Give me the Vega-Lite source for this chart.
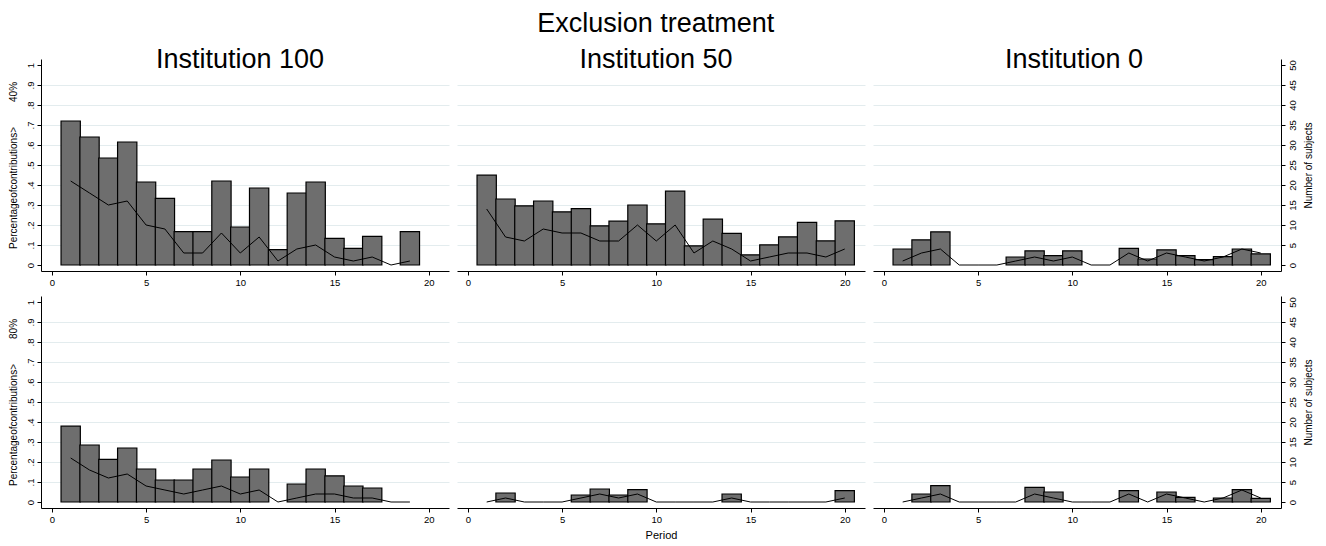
{
  "$schema": "https://vega.github.io/schema/vega-lite/v6.json",
  "padding": {"left": 8, "top": 10, "right": 5, "bottom": 3},
  "title": {"text": "Exclusion treatment", "fontSize": 27, "offset": 8, "anchor": "middle", "dx": -5},
  "datasets": {
    "d": [
      {"inst": "100", "thr": "40", "period": 1, "pct": 0.72, "n": 21},
      {"inst": "100", "thr": "40", "period": 2, "pct": 0.64, "n": 18},
      {"inst": "100", "thr": "40", "period": 3, "pct": 0.535, "n": 15},
      {"inst": "100", "thr": "40", "period": 4, "pct": 0.615, "n": 16},
      {"inst": "100", "thr": "40", "period": 5, "pct": 0.415, "n": 10},
      {"inst": "100", "thr": "40", "period": 6, "pct": 0.333, "n": 9},
      {"inst": "100", "thr": "40", "period": 7, "pct": 0.167, "n": 3},
      {"inst": "100", "thr": "40", "period": 8, "pct": 0.167, "n": 3},
      {"inst": "100", "thr": "40", "period": 9, "pct": 0.42, "n": 8},
      {"inst": "100", "thr": "40", "period": 10, "pct": 0.19, "n": 3},
      {"inst": "100", "thr": "40", "period": 11, "pct": 0.385, "n": 7},
      {"inst": "100", "thr": "40", "period": 12, "pct": 0.077, "n": 1},
      {"inst": "100", "thr": "40", "period": 13, "pct": 0.36, "n": 4},
      {"inst": "100", "thr": "40", "period": 14, "pct": 0.415, "n": 5},
      {"inst": "100", "thr": "40", "period": 15, "pct": 0.133, "n": 2},
      {"inst": "100", "thr": "40", "period": 16, "pct": 0.083, "n": 1},
      {"inst": "100", "thr": "40", "period": 17, "pct": 0.143, "n": 2},
      {"inst": "100", "thr": "40", "period": 18, "pct": null, "n": 0},
      {"inst": "100", "thr": "40", "period": 19, "pct": 0.167, "n": 1},

      {"inst": "50", "thr": "40", "period": 1, "pct": 0.449, "n": 14},
      {"inst": "50", "thr": "40", "period": 2, "pct": 0.33, "n": 7},
      {"inst": "50", "thr": "40", "period": 3, "pct": 0.296, "n": 6},
      {"inst": "50", "thr": "40", "period": 4, "pct": 0.32, "n": 9},
      {"inst": "50", "thr": "40", "period": 5, "pct": 0.266, "n": 8},
      {"inst": "50", "thr": "40", "period": 6, "pct": 0.282, "n": 8},
      {"inst": "50", "thr": "40", "period": 7, "pct": 0.196, "n": 6},
      {"inst": "50", "thr": "40", "period": 8, "pct": 0.219, "n": 6},
      {"inst": "50", "thr": "40", "period": 9, "pct": 0.3, "n": 10},
      {"inst": "50", "thr": "40", "period": 10, "pct": 0.206, "n": 6},
      {"inst": "50", "thr": "40", "period": 11, "pct": 0.369, "n": 10},
      {"inst": "50", "thr": "40", "period": 12, "pct": 0.096, "n": 3},
      {"inst": "50", "thr": "40", "period": 13, "pct": 0.229, "n": 6},
      {"inst": "50", "thr": "40", "period": 14, "pct": 0.158, "n": 4},
      {"inst": "50", "thr": "40", "period": 15, "pct": 0.051, "n": 1},
      {"inst": "50", "thr": "40", "period": 16, "pct": 0.101, "n": 2},
      {"inst": "50", "thr": "40", "period": 17, "pct": 0.141, "n": 3},
      {"inst": "50", "thr": "40", "period": 18, "pct": 0.213, "n": 3},
      {"inst": "50", "thr": "40", "period": 19, "pct": 0.121, "n": 2},
      {"inst": "50", "thr": "40", "period": 20, "pct": 0.221, "n": 4},

      {"inst": "0", "thr": "40", "period": 1, "pct": 0.08, "n": 1},
      {"inst": "0", "thr": "40", "period": 2, "pct": 0.126, "n": 3},
      {"inst": "0", "thr": "40", "period": 3, "pct": 0.166, "n": 4},
      {"inst": "0", "thr": "40", "period": 4, "pct": null, "n": 0},
      {"inst": "0", "thr": "40", "period": 5, "pct": null, "n": 0},
      {"inst": "0", "thr": "40", "period": 6, "pct": null, "n": 0},
      {"inst": "0", "thr": "40", "period": 7, "pct": 0.04, "n": 1},
      {"inst": "0", "thr": "40", "period": 8, "pct": 0.071, "n": 2},
      {"inst": "0", "thr": "40", "period": 9, "pct": 0.047, "n": 1},
      {"inst": "0", "thr": "40", "period": 10, "pct": 0.071, "n": 2},
      {"inst": "0", "thr": "40", "period": 11, "pct": null, "n": 0},
      {"inst": "0", "thr": "40", "period": 12, "pct": null, "n": 0},
      {"inst": "0", "thr": "40", "period": 13, "pct": 0.083, "n": 3},
      {"inst": "0", "thr": "40", "period": 14, "pct": 0.03, "n": 1},
      {"inst": "0", "thr": "40", "period": 15, "pct": 0.076, "n": 3},
      {"inst": "0", "thr": "40", "period": 16, "pct": 0.047, "n": 2},
      {"inst": "0", "thr": "40", "period": 17, "pct": 0.027, "n": 1},
      {"inst": "0", "thr": "40", "period": 18, "pct": 0.042, "n": 2},
      {"inst": "0", "thr": "40", "period": 19, "pct": 0.08, "n": 4},
      {"inst": "0", "thr": "40", "period": 20, "pct": 0.056, "n": 3},

      {"inst": "100", "thr": "80", "period": 1, "pct": 0.379, "n": 11},
      {"inst": "100", "thr": "80", "period": 2, "pct": 0.285, "n": 8},
      {"inst": "100", "thr": "80", "period": 3, "pct": 0.213, "n": 6},
      {"inst": "100", "thr": "80", "period": 4, "pct": 0.27, "n": 7},
      {"inst": "100", "thr": "80", "period": 5, "pct": 0.165, "n": 4},
      {"inst": "100", "thr": "80", "period": 6, "pct": 0.11, "n": 3},
      {"inst": "100", "thr": "80", "period": 7, "pct": 0.11, "n": 2},
      {"inst": "100", "thr": "80", "period": 8, "pct": 0.165, "n": 3},
      {"inst": "100", "thr": "80", "period": 9, "pct": 0.21, "n": 4},
      {"inst": "100", "thr": "80", "period": 10, "pct": 0.125, "n": 2},
      {"inst": "100", "thr": "80", "period": 11, "pct": 0.165, "n": 3},
      {"inst": "100", "thr": "80", "period": 12, "pct": null, "n": 0},
      {"inst": "100", "thr": "80", "period": 13, "pct": 0.09, "n": 1},
      {"inst": "100", "thr": "80", "period": 14, "pct": 0.165, "n": 2},
      {"inst": "100", "thr": "80", "period": 15, "pct": 0.131, "n": 2},
      {"inst": "100", "thr": "80", "period": 16, "pct": 0.08, "n": 1},
      {"inst": "100", "thr": "80", "period": 17, "pct": 0.07, "n": 1},
      {"inst": "100", "thr": "80", "period": 18, "pct": null, "n": 0},
      {"inst": "100", "thr": "80", "period": 19, "pct": null, "n": 0},

      {"inst": "50", "thr": "80", "period": 1, "pct": null, "n": 0},
      {"inst": "50", "thr": "80", "period": 2, "pct": 0.045, "n": 1},
      {"inst": "50", "thr": "80", "period": 3, "pct": null, "n": 0},
      {"inst": "50", "thr": "80", "period": 4, "pct": null, "n": 0},
      {"inst": "50", "thr": "80", "period": 5, "pct": null, "n": 0},
      {"inst": "50", "thr": "80", "period": 6, "pct": 0.035, "n": 1},
      {"inst": "50", "thr": "80", "period": 7, "pct": 0.065, "n": 2},
      {"inst": "50", "thr": "80", "period": 8, "pct": 0.035, "n": 1},
      {"inst": "50", "thr": "80", "period": 9, "pct": 0.062, "n": 2},
      {"inst": "50", "thr": "80", "period": 10, "pct": null, "n": 0},
      {"inst": "50", "thr": "80", "period": 11, "pct": null, "n": 0},
      {"inst": "50", "thr": "80", "period": 12, "pct": null, "n": 0},
      {"inst": "50", "thr": "80", "period": 13, "pct": null, "n": 0},
      {"inst": "50", "thr": "80", "period": 14, "pct": 0.04, "n": 1},
      {"inst": "50", "thr": "80", "period": 15, "pct": null, "n": 0},
      {"inst": "50", "thr": "80", "period": 16, "pct": null, "n": 0},
      {"inst": "50", "thr": "80", "period": 17, "pct": null, "n": 0},
      {"inst": "50", "thr": "80", "period": 18, "pct": null, "n": 0},
      {"inst": "50", "thr": "80", "period": 19, "pct": null, "n": 0},
      {"inst": "50", "thr": "80", "period": 20, "pct": 0.057, "n": 1},

      {"inst": "0", "thr": "80", "period": 1, "pct": null, "n": 0},
      {"inst": "0", "thr": "80", "period": 2, "pct": 0.04, "n": 1},
      {"inst": "0", "thr": "80", "period": 3, "pct": 0.082, "n": 2},
      {"inst": "0", "thr": "80", "period": 4, "pct": null, "n": 0},
      {"inst": "0", "thr": "80", "period": 5, "pct": null, "n": 0},
      {"inst": "0", "thr": "80", "period": 6, "pct": null, "n": 0},
      {"inst": "0", "thr": "80", "period": 7, "pct": null, "n": 0},
      {"inst": "0", "thr": "80", "period": 8, "pct": 0.073, "n": 2},
      {"inst": "0", "thr": "80", "period": 9, "pct": 0.05, "n": 1},
      {"inst": "0", "thr": "80", "period": 10, "pct": null, "n": 0},
      {"inst": "0", "thr": "80", "period": 11, "pct": null, "n": 0},
      {"inst": "0", "thr": "80", "period": 12, "pct": null, "n": 0},
      {"inst": "0", "thr": "80", "period": 13, "pct": 0.057, "n": 2},
      {"inst": "0", "thr": "80", "period": 14, "pct": null, "n": 0},
      {"inst": "0", "thr": "80", "period": 15, "pct": 0.05, "n": 2},
      {"inst": "0", "thr": "80", "period": 16, "pct": 0.023, "n": 1},
      {"inst": "0", "thr": "80", "period": 17, "pct": null, "n": 0},
      {"inst": "0", "thr": "80", "period": 18, "pct": 0.02, "n": 1},
      {"inst": "0", "thr": "80", "period": 19, "pct": 0.062, "n": 3},
      {"inst": "0", "thr": "80", "period": 20, "pct": 0.018, "n": 1}
    ]
  },
  "columns": 3,
  "spacing": {"row": 25, "column": 8},
  "bounds": "flush",
  "concat": [
    {
      "width": 408, "height": 212,
      "data": {"name": "d"},
      "transform": [{"filter": "datum.inst == '100' && datum.thr == '40'"}],
      "title": {"text": "Institution 100", "offset": -36, "baseline": "alphabetic", "dx": -5},
      "layer": [
        {
          "mark": {"type": "bar", "width": 19.3, "fill": "#6e6e6e", "stroke": "#000000", "strokeWidth": 1.2},
          "encoding": {
            "x": {"field": "period", "type": "quantitative", "scale": {"domain": [-0.31, 20.81], "nice": false, "zero": false}, "axis": {"values": [0, 5, 10, 15, 20], "title": null, "grid": false}},
            "y": {"field": "pct", "type": "quantitative", "scale": {"domain": [-0.03, 1.03], "nice": false, "zero": false},
              "axis": {"values": [0, 0.1, 0.2, 0.3, 0.4, 0.5, 0.6, 0.7, 0.8, 0.9, 1], "labelExpr": "replace(format(datum.value, '.1~f'), '0.', '.')", "labelAngle": -90, "labelAlign": "center", "labelBaseline": "bottom", "title": "Percentageofcontributions>\u00a0\u00a0\u00a0\u00a0\u00a0\u00a0\u00a0\u00a0\u00a040%", "titlePadding": 7, "grid": true, "gridOpacity": {"condition": {"test": "datum.value < 0.05 || datum.value > 0.95", "value": 0}, "value": 1}}}
          }
        },
        {
          "mark": {"type": "line", "color": "#000000", "strokeWidth": 1},
          "encoding": {
            "x": {"field": "period", "type": "quantitative"},
            "y": {"field": "n", "type": "quantitative", "scale": {"domain": [-1.5, 51.5], "nice": false, "zero": false}, "axis": null}
          }
        }
      ],
      "resolve": {"scale": {"y": "independent"}}
    },
    {
      "width": 408, "height": 212,
      "data": {"name": "d"},
      "transform": [{"filter": "datum.inst == '50' && datum.thr == '40'"}],
      "title": {"text": "Institution 50", "offset": -36, "baseline": "alphabetic", "dx": -5},
      "layer": [
        {
          "mark": {"type": "bar", "width": 19.3, "fill": "#6e6e6e", "stroke": "#000000", "strokeWidth": 1.2},
          "encoding": {
            "x": {"field": "period", "type": "quantitative", "scale": {"domain": [-0.31, 20.81], "nice": false, "zero": false}, "axis": {"values": [0, 5, 10, 15, 20], "title": null, "grid": false}},
            "y": {"field": "pct", "type": "quantitative", "scale": {"domain": [-0.03, 1.03], "nice": false, "zero": false},
              "axis": {"values": [0.1, 0.2, 0.3, 0.4, 0.5, 0.6, 0.7, 0.8, 0.9], "labels": false, "ticks": false, "domain": false, "title": null, "grid": true}}
          }
        },
        {
          "mark": {"type": "line", "color": "#000000", "strokeWidth": 1},
          "encoding": {
            "x": {"field": "period", "type": "quantitative"},
            "y": {"field": "n", "type": "quantitative", "scale": {"domain": [-1.5, 51.5], "nice": false, "zero": false}, "axis": null}
          }
        }
      ],
      "resolve": {"scale": {"y": "independent"}}
    },
    {
      "width": 408, "height": 212,
      "data": {"name": "d"},
      "transform": [{"filter": "datum.inst == '0' && datum.thr == '40'"}],
      "title": {"text": "Institution 0", "offset": -36, "baseline": "alphabetic", "dx": -3},
      "layer": [
        {
          "mark": {"type": "bar", "width": 19.3, "fill": "#6e6e6e", "stroke": "#000000", "strokeWidth": 1.2},
          "encoding": {
            "x": {"field": "period", "type": "quantitative", "scale": {"domain": [-0.31, 20.81], "nice": false, "zero": false}, "axis": {"values": [0, 5, 10, 15, 20], "title": null, "grid": false}},
            "y": {"field": "pct", "type": "quantitative", "scale": {"domain": [-0.03, 1.03], "nice": false, "zero": false},
              "axis": {"values": [0.1, 0.2, 0.3, 0.4, 0.5, 0.6, 0.7, 0.8, 0.9], "labels": false, "ticks": false, "domain": false, "title": null, "grid": true}}
          }
        },
        {
          "mark": {"type": "line", "color": "#000000", "strokeWidth": 1},
          "encoding": {
            "x": {"field": "period", "type": "quantitative"},
            "y": {"field": "n", "type": "quantitative", "scale": {"domain": [-1.5, 51.5], "nice": false, "zero": false},
              "axis": {"orient": "right", "values": [0, 5, 10, 15, 20, 25, 30, 35, 40, 45, 50], "labelAngle": -90, "labelAlign": "center", "labelBaseline": "top", "title": "Number of subjects", "titleAngle": -90, "titleBaseline": "top", "titlePadding": 7, "grid": false}}
          }
        }
      ],
      "resolve": {"scale": {"y": "independent"}}
    },
    {
      "width": 408, "height": 212,
      "data": {"name": "d"},
      "transform": [{"filter": "datum.inst == '100' && datum.thr == '80'"}],
      "layer": [
        {
          "mark": {"type": "bar", "width": 19.3, "fill": "#6e6e6e", "stroke": "#000000", "strokeWidth": 1.2},
          "encoding": {
            "x": {"field": "period", "type": "quantitative", "scale": {"domain": [-0.31, 20.81], "nice": false, "zero": false}, "axis": {"values": [0, 5, 10, 15, 20], "title": null, "grid": false}},
            "y": {"field": "pct", "type": "quantitative", "scale": {"domain": [-0.03, 1.03], "nice": false, "zero": false},
              "axis": {"values": [0, 0.1, 0.2, 0.3, 0.4, 0.5, 0.6, 0.7, 0.8, 0.9, 1], "labelExpr": "replace(format(datum.value, '.1~f'), '0.', '.')", "labelAngle": -90, "labelAlign": "center", "labelBaseline": "bottom", "title": "Percentageofcontributions>\u00a0\u00a0\u00a0\u00a0\u00a0\u00a0\u00a0\u00a0\u00a080%", "titlePadding": 7, "grid": true, "gridOpacity": {"condition": {"test": "datum.value < 0.05 || datum.value > 0.95", "value": 0}, "value": 1}}}
          }
        },
        {
          "mark": {"type": "line", "color": "#000000", "strokeWidth": 1},
          "encoding": {
            "x": {"field": "period", "type": "quantitative"},
            "y": {"field": "n", "type": "quantitative", "scale": {"domain": [-1.5, 51.5], "nice": false, "zero": false}, "axis": null}
          }
        }
      ],
      "resolve": {"scale": {"y": "independent"}}
    },
    {
      "width": 408, "height": 212,
      "data": {"name": "d"},
      "transform": [{"filter": "datum.inst == '50' && datum.thr == '80'"}],
      "layer": [
        {
          "mark": {"type": "bar", "width": 19.3, "fill": "#6e6e6e", "stroke": "#000000", "strokeWidth": 1.2},
          "encoding": {
            "x": {"field": "period", "type": "quantitative", "scale": {"domain": [-0.31, 20.81], "nice": false, "zero": false}, "axis": {"values": [0, 5, 10, 15, 20], "title": "Period", "titlePadding": 6, "grid": false}},
            "y": {"field": "pct", "type": "quantitative", "scale": {"domain": [-0.03, 1.03], "nice": false, "zero": false},
              "axis": {"values": [0.1, 0.2, 0.3, 0.4, 0.5, 0.6, 0.7, 0.8, 0.9], "labels": false, "ticks": false, "domain": false, "title": null, "grid": true}}
          }
        },
        {
          "mark": {"type": "line", "color": "#000000", "strokeWidth": 1},
          "encoding": {
            "x": {"field": "period", "type": "quantitative"},
            "y": {"field": "n", "type": "quantitative", "scale": {"domain": [-1.5, 51.5], "nice": false, "zero": false}, "axis": null}
          }
        }
      ],
      "resolve": {"scale": {"y": "independent"}}
    },
    {
      "width": 408, "height": 212,
      "data": {"name": "d"},
      "transform": [{"filter": "datum.inst == '0' && datum.thr == '80'"}],
      "layer": [
        {
          "mark": {"type": "bar", "width": 19.3, "fill": "#6e6e6e", "stroke": "#000000", "strokeWidth": 1.2},
          "encoding": {
            "x": {"field": "period", "type": "quantitative", "scale": {"domain": [-0.31, 20.81], "nice": false, "zero": false}, "axis": {"values": [0, 5, 10, 15, 20], "title": null, "grid": false}},
            "y": {"field": "pct", "type": "quantitative", "scale": {"domain": [-0.03, 1.03], "nice": false, "zero": false},
              "axis": {"values": [0.1, 0.2, 0.3, 0.4, 0.5, 0.6, 0.7, 0.8, 0.9], "labels": false, "ticks": false, "domain": false, "title": null, "grid": true}}
          }
        },
        {
          "mark": {"type": "line", "color": "#000000", "strokeWidth": 1},
          "encoding": {
            "x": {"field": "period", "type": "quantitative"},
            "y": {"field": "n", "type": "quantitative", "scale": {"domain": [-1.5, 51.5], "nice": false, "zero": false},
              "axis": {"orient": "right", "values": [0, 5, 10, 15, 20, 25, 30, 35, 40, 45, 50], "labelAngle": -90, "labelAlign": "center", "labelBaseline": "top", "title": "Number of subjects", "titleAngle": -90, "titleBaseline": "top", "titlePadding": 7, "grid": false}}
          }
        }
      ],
      "resolve": {"scale": {"y": "independent"}}
    }
  ],
  "config": {
    "font": "Liberation Sans",
    "view": {"stroke": null},
    "title": {"font": "Liberation Sans", "fontSize": 27, "fontWeight": "normal", "color": "#000000"},
    "axis": {
      "labelFont": "Liberation Sans", "titleFont": "Liberation Sans",
      "labelFontSize": 9.5, "titleFontSize": 10, "titleFontWeight": "normal",
      "labelColor": "#000000", "titleColor": "#000000",
      "domainColor": "#000000", "tickColor": "#000000", "domainWidth": 1, "tickWidth": 1,
      "tickSize": 4, "labelPadding": 2, "gridColor": "#e3ecee", "gridWidth": 1
    },
    "axisX": {"titleFontSize": 11}
  }
}
